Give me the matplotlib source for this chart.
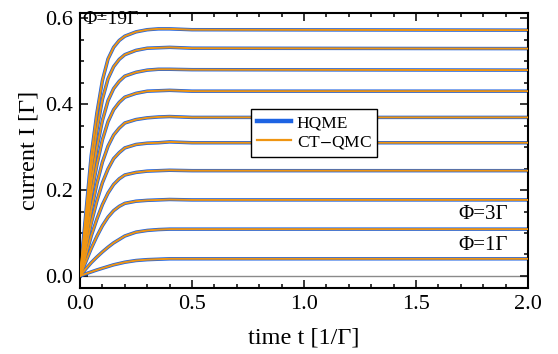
import matplotlib
matplotlib.use('Agg')
import matplotlib.pyplot as plt
from matplotlib.ticker import MultipleLocator

plt.rcParams['font.family'] = ['Liberation Serif', 'DejaVu Serif']
plt.rcParams['mathtext.fontset'] = 'stix'

# time grid (1/Gamma)
t = [0, 0.025, 0.05, 0.075, 0.1, 0.125, 0.15, 0.175, 0.2, 0.25, 0.3, 0.35, 0.4, 0.5, 2.0]

# current I [Gamma] for bias voltages Phi = 1, 3, ..., 19 Gamma
phi = [1, 3, 5, 7, 9, 11, 13, 15, 17, 19]
I_phi1 = [0, 0.005, 0.0095, 0.014, 0.018, 0.022, 0.026, 0.029, 0.032, 0.036, 0.038, 0.039, 0.040, 0.040, 0.040]
I_phi3 = [0, 0.016, 0.031, 0.044, 0.056, 0.067, 0.077, 0.085, 0.093, 0.102, 0.106, 0.108, 0.109, 0.109, 0.109]
I_phi5 = [0, 0.032, 0.064, 0.092, 0.117, 0.137, 0.152, 0.162, 0.169, 0.174, 0.176, 0.177, 0.178, 0.177, 0.177]
I_phi7 = [0, 0.046, 0.093, 0.132, 0.166, 0.193, 0.213, 0.226, 0.235, 0.241, 0.244, 0.245, 0.246, 0.245, 0.245]
I_phi9 = [0, 0.062, 0.123, 0.174, 0.217, 0.249, 0.273, 0.287, 0.298, 0.306, 0.309, 0.310, 0.312, 0.310, 0.310]
I_phi11 = [0, 0.077, 0.153, 0.214, 0.265, 0.302, 0.328, 0.344, 0.356, 0.364, 0.368, 0.370, 0.371, 0.369, 0.369]
I_phi13 = [0, 0.093, 0.187, 0.258, 0.317, 0.359, 0.387, 0.404, 0.416, 0.425, 0.430, 0.431, 0.432, 0.430, 0.430]
I_phi15 = [0, 0.108, 0.217, 0.297, 0.362, 0.408, 0.436, 0.453, 0.465, 0.474, 0.479, 0.481, 0.481, 0.480, 0.479]
I_phi17 = [0, 0.125, 0.249, 0.339, 0.411, 0.459, 0.487, 0.504, 0.515, 0.525, 0.530, 0.531, 0.532, 0.530, 0.529]
I_phi19 = [0, 0.140, 0.280, 0.378, 0.455, 0.505, 0.532, 0.548, 0.558, 0.568, 0.573, 0.575, 0.575, 0.573, 0.572]
curves = [I_phi1, I_phi3, I_phi5, I_phi7, I_phi9, I_phi11, I_phi13, I_phi15, I_phi17, I_phi19]

blue = '#1d63e3'
orange = '#ef9512'

fig = plt.figure(figsize=(5.58, 3.54), dpi=100)
ax = fig.add_axes([0.1434, 0.1864, 0.803, 0.777])

ax.axhline(0, color='#8a8a8a', lw=1.0, zorder=1)
# HQME first, CT-QMC drawn on top of all of them
for i, I in enumerate(curves):
    ax.plot(t, I, color=blue, lw=2.5, zorder=2, label='HQME' if i == 0 else None)
for i, I in enumerate(curves):
    ax.plot(t, I, color=orange, lw=1.4, zorder=3, label='CT$-$QMC' if i == 0 else None)

ax.set_xlim(0, 2.0)
ax.set_ylim(-0.028, 0.612)
ax.xaxis.set_major_locator(MultipleLocator(0.5))
ax.xaxis.set_minor_locator(MultipleLocator(0.1))
ax.yaxis.set_major_locator(MultipleLocator(0.2))
ax.yaxis.set_minor_locator(MultipleLocator(0.05))
ax.xaxis.set_major_formatter(lambda v, p: f'{v:.1f}')
ax.yaxis.set_major_formatter(lambda v, p: f'{v:.1f}')
ax.tick_params(which='both', direction='in', top=True, right=True, labelsize=16, width=1.1)
ax.tick_params(which='major', length=6, pad=5)
ax.tick_params(which='minor', length=3)
for s in ax.spines.values():
    s.set_linewidth(1.5)

ax.set_xlabel('time t [1/Γ]', fontsize=17.5, labelpad=10)
ax.set_ylabel('current I [Γ]', fontsize=17.5, labelpad=4)

ax.text(0.01, 0.597, 'Φ=19Γ', fontsize=14, ha='left', va='center', zorder=5)
ax.text(1.91, 0.142, 'Φ=3Γ', fontsize=15, ha='right', va='center')
ax.text(1.91, 0.072, 'Φ=1Γ', fontsize=15, ha='right', va='center')

leg = ax.legend(loc='center', bbox_to_anchor=(0.522, 0.564), fontsize=12.5,
                frameon=True, fancybox=False, handlelength=2.0,
                borderpad=0.35, labelspacing=0.15, handletextpad=0.3)
leg.get_frame().set_edgecolor('black')
leg.get_frame().set_linewidth(1.0)
leg.get_frame().set_alpha(1)
leg.get_lines()[0].set_linewidth(3.2)
leg.get_lines()[1].set_linewidth(1.6)

fig.savefig('out.png', dpi=100)
